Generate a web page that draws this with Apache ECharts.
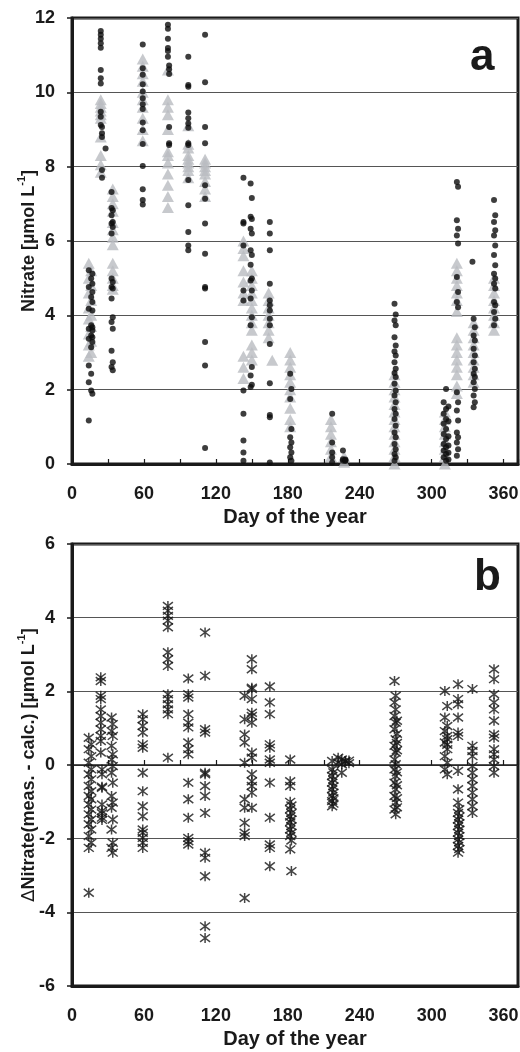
<!DOCTYPE html>
<html>
<head>
<meta charset="utf-8">
<script src="https://cdn.jsdelivr.net/npm/echarts@6/dist/echarts.min.js"></script>
<style>
html,body{margin:0;padding:0;background:#fff;}
#chart{width:520px;height:1052px;}
</style>
</head>
<body>
<div id="chart"></div>
<script>
// ---------- DATA ----------
const xTicks = [0, 60, 120, 180, 240, 300, 360];
const nitrateTicks = [0, 2, 4, 6, 8, 10, 12];
const deltaTicks = [-6, -4, -2, 0, 2, 4, 6];

// measured nitrate (black dots): [day, [values]]
const measuredGroups = [
  [14, [5.21, 4.76, 4.18, 3.64, 3.37, 2.65, 2.20, 1.17]],
  [16, [4.99, 4.49, 3.73, 3.46, 3.14, 2.43, 1.98]],
  [17, [5.12, 4.85, 4.63, 4.36, 4.13, 3.68, 3.59, 3.41, 3.28, 1.89]],
  [24, [11.65, 11.55, 11.44, 11.32, 11.2, 10.6, 10.38, 10.24, 9.48, 9.34, 9.12]],
  [25, [9.07, 8.9, 8.8, 7.91, 7.70]],
  [28, [8.49]],
  [33, [7.32, 6.89, 6.69, 6.47, 6.2, 4.99, 4.76, 4.45, 3.82, 3.05, 2.61]],
  [34, [6.83, 6.51, 6.38, 4.9, 4.72, 3.95, 3.64, 2.74, 2.52]],
  [59, [11.29, 10.65, 10.47, 10.22, 10.02, 9.84, 9.68, 9.55, 9.19, 8.98, 8.61, 8.02, 7.39, 7.1, 6.98]],
  [80, [11.82, 11.71, 11.44, 11.19, 11.11, 10.96]],
  [81, [10.72, 10.62, 10.49, 9.07, 8.63, 8.58]],
  [97, [10.96, 10.2, 10.15, 9.46, 9.3, 9.16, 9.05, 8.63, 8.58, 7.64, 6.96, 6.24, 5.88, 5.75]],
  [111, [11.55, 10.27, 9.07, 8.63, 7.5, 7.14, 6.47, 5.66, 4.76, 4.72, 3.28, 2.65, 0.43]],
  [143, [7.7, 6.51, 6.47, 5.88, 4.67, 4.4, 1.98, 1.35, 0.63, 0.31, 0.09]],
  [149, [7.55, 6.65, 6.33, 5.75, 5.36, 4.94, 4.45, 3.73, 2.38, 2.07]],
  [150, [7.16, 6.59, 6.2, 5.62, 4.99, 4.67, 3.95, 2.61, 2.13]],
  [165, [6.51, 6.2, 5.75, 4.85, 4.4, 4.27, 4.13, 3.91, 3.73, 3.23, 2.17, 1.32, 1.26, 0.04]],
  [182, [2.43, 1.75, 0.72, 0.45, 0.18]],
  [183, [2.02, 0.94, 0.58, 0.31, 0.09]],
  [217, [1.35, 0.58, 0.31, 0.18, 0.04]],
  [226, [0.36, 0.13, 0.09]],
  [228, [0.1, 0.12, 0.08]],
  [269, [4.31, 3.86, 3.41, 3.03, 2.74, 2.45, 2.16, 1.84, 1.48, 1.21, 0.85, 0.54, 0.27, 0.09]],
  [270, [4.02, 3.73, 3.19, 2.92, 2.56, 2.34, 1.98, 1.66, 1.35, 1.03, 0.72, 0.4, 0.18]],
  [310, [1.66, 1.35, 1.08, 0.81, 0.54, 0.36, 0.18]],
  [312, [2.02, 1.48, 1.21, 0.94, 0.67, 0.45, 0.27, 0.09]],
  [314, [1.55, 1.15, 0.75, 0.5, 0.3, 0.12]],
  [321, [7.59, 6.56, 6.15, 5.03, 4.36, 1.93, 1.44, 0.85, 0.58, 0.22]],
  [322, [7.46, 6.33, 5.93, 4.63, 4.22, 1.66, 1.17, 0.72, 0.4]],
  [334, [5.44]],
  [335, [3.91, 3.46, 3.1, 2.74, 2.43, 2.2, 1.84, 1.53]],
  [336, [3.68, 3.32, 2.92, 2.56, 2.34, 2.02, 1.66]],
  [352, [7.1, 6.51, 6.15, 5.62, 5.12, 4.85, 4.36, 4.09, 3.73]],
  [353, [6.69, 6.29, 5.88, 5.35, 4.99, 4.72, 4.27, 3.91]]
];

// calculated nitrate (grey triangles): [day, [values]]
const calculatedGroups = [
  [14, [5.4, 5.0, 4.6, 4.2, 3.9, 3.5, 3.2, 2.9]],
  [16, [5.2, 4.8, 4.4, 4.0, 3.7, 3.3, 3.0]],
  [24, [9.8, 9.7, 9.6, 9.5, 9.4, 9.3, 8.8, 8.3, 8.05, 7.85]],
  [34, [7.4, 7.2, 7.0, 6.8, 6.5, 6.3, 6.1, 5.9, 5.4, 5.2, 5.0, 4.8, 4.7]],
  [59, [10.9, 10.7, 10.5, 10.3, 10.0, 9.8, 9.6, 9.3, 9.0, 8.7]],
  [80, [10.6, 9.8, 9.6, 9.4, 9.0, 8.4, 8.3, 8.1, 7.8, 7.5, 7.2, 6.9]],
  [97, [9.1, 8.6, 8.5, 8.3, 8.2, 8.1, 8.0, 7.9, 7.7]],
  [111, [8.2, 8.1, 8.0, 7.9, 7.8, 7.6, 7.4, 7.2]],
  [143, [6.0, 5.8, 5.6, 5.2, 4.9, 4.6, 4.4, 2.9, 2.6, 2.3]],
  [150, [5.2, 5.0, 4.8, 4.6, 4.4, 4.2, 4.0, 3.8, 3.6, 3.2, 3.0, 2.8]],
  [164, [4.6, 4.4, 4.2, 4.0, 3.8, 3.6, 3.4]],
  [167, [2.79]],
  [182, [3.0, 2.8, 2.6, 2.4, 2.2, 2.0, 1.8, 1.5, 1.2, 1.0]],
  [216, [1.2, 1.0, 0.8, 0.6, 0.4, 0.2]],
  [227, [0.2, 0.05]],
  [269, [2.4, 2.2, 2.0, 1.8, 1.6, 1.4, 1.2, 1.0, 0.8, 0.6, 0.4, 0.2, 0.0]],
  [311, [1.4, 1.2, 1.0, 0.8, 0.6, 0.4, 0.2, 0.0]],
  [321, [5.4, 5.2, 5.0, 4.8, 4.6, 4.4, 4.1, 3.4, 3.2, 3.0, 2.8, 2.6, 2.4, 2.1, 1.9]],
  [335, [3.8, 3.6, 3.4, 3.2, 3.0, 2.8, 2.6, 2.4, 2.2]],
  [352, [5.0, 4.8, 4.6, 4.4, 4.2, 4.0, 3.8, 3.6]]
];

// difference measured - calculated (asterisks): [day, [values]]
const deltaGroups = [
  [14, [0.74, 0.43, 0.06, -0.25, -0.57, -0.84, -1.07, -1.34, -1.61, -1.93, -2.25, -3.47]],
  [16, [0.56, 0.24, -0.12, -0.39, -0.71, -0.93, -1.21, -1.48, -1.75, -2.11]],
  [24, [2.38, 2.28, 1.88, 1.79, 1.51, 1.33, 1.15, 0.97, 0.79, 0.65, 0.34]],
  [25, [-0.12, -0.25, -0.59, -0.62, -1.07, -1.25, -1.31, -1.43, -1.49]],
  [33, [1.29, 0.92, 0.52, 0.15, -0.21, -0.84, -1.16, -1.75, -2.25]],
  [34, [1.11, 0.79, 0.29, -0.03, -0.48, -1.02, -1.48, -2.11, -2.38]],
  [59, [1.38, 1.24, 1.06, 0.88, 0.56, 0.47, -0.21, -0.71, -1.12, -1.39, -1.75, -1.84, -1.98, -2.11, -2.25]],
  [80, [4.32, 4.19, 4.05, 3.92, 3.74, 3.06, 2.87, 2.69, 1.92, 1.79, 1.65, 1.51, 1.38, 0.2]],
  [97, [2.35, 1.92, 1.83, 1.38, 1.15, 1.02, 0.61, 0.43, 0.29, -0.48, -0.93, -1.43, -1.98, -2.07, -2.16]],
  [111, [3.6, 2.42, 0.97, 0.88, -0.21, -0.25, -0.57, -0.84, -1.3, -2.38, -2.52, -3.02, -4.38, -4.7]],
  [144, [1.88, 1.24, 0.83, 0.61, 0.06, -0.93, -1.16, -1.57, -1.84, -1.93, -3.61]],
  [150, [2.87, 2.6, 2.1, 2.06, 1.79, 1.42, 1.33, 1.15, 0.34, 0.2, -0.25, -0.44, -0.57, -0.75, -1.16]],
  [165, [2.13, 1.7, 1.38, 0.56, 0.47, 0.15, 0.06, -0.48, -1.43, -2.16, -2.25, -2.75]],
  [182, [0.15, -0.44, -0.57, -1.0, -1.2, -1.4, -1.55, -1.75, -1.93, -2.29]],
  [183, [-1.1, -1.3, -1.48, -1.66, -1.84, -2.05, -2.88]],
  [217, [0.11, -0.12, -0.3, -0.48, -0.66, -0.84, -0.98, -1.12]],
  [218, [-0.2, -0.4, -0.58, -0.75, -0.9, -1.05]],
  [222, [0.2, 0.06]],
  [225, [0.15, 0.02, -0.21]],
  [228, [0.11, 0.1]],
  [231, [0.05, 0.12]],
  [269, [2.28, 1.7, 1.33, 0.97, 0.52, 0.15, -0.12, -0.48, -0.84, -1.21]],
  [270, [1.88, 1.51, 1.15, 0.7, 0.34, 0.02, -0.3, -0.66, -1.02, -1.34]],
  [271, [1.2, 0.85, 0.6, 0.4, -0.2, -0.55, -0.9, -1.15]],
  [311, [2.01, 1.29, 0.92, 0.61, 0.24, -0.12]],
  [313, [1.6, 1.06, 0.79, 0.43, 0.06, -0.25, 0.55, 0.7]],
  [322, [2.19, 1.79, 1.65, 1.29, 0.88, 0.79, -0.16, -0.66, -1.02, -1.3, -1.48, -1.66, -1.84, -2.02, -2.2, -2.38]],
  [323, [-1.2, -1.4, -1.58, -1.75, -1.93, -2.1, -2.28]],
  [334, [2.06, 0.52, 0.38, 0.24, -0.03, -0.21, -0.39, -0.57, -0.75, -0.93, -1.12, -1.3]],
  [352, [2.6, 2.33, 1.92, 1.7, 1.51, 1.2, 0.83, 0.74, 0.43, 0.29, 0.15, -0.03, -0.21]]
];

// ---------- BUILD ----------
function flatten(groups) {
  const out = [];
  groups.forEach(function (g) { g[1].forEach(function (v) { out.push([g[0], v]); }); });
  return out;
}

const FONT = 'Liberation Sans, Arial, Helvetica, sans-serif';
const labelStyle = { fontFamily: FONT, fontSize: 18, fontWeight: 'bold', color: '#1a1a1a' };

function xAxisBase(gridIndex) {
  return {
    type: 'value', gridIndex: gridIndex, min: 0, max: 372, interval: 30,
    position: 'bottom',
    axisLine: { show: true, onZero: false, lineStyle: { color: '#1a1a1a', width: 3 } },
    splitLine: { show: false },
    axisLabel: Object.assign({}, labelStyle, {
      margin: 21,
      formatter: function (v) { return xTicks.indexOf(v) >= 0 ? String(v) : ''; }
    }),
    name: 'Day of the year', nameLocation: 'middle', nameGap: 43, nameMoveOverlap: false,
    nameTextStyle: { fontFamily: FONT, fontSize: 20, fontWeight: 'bold', color: '#1a1a1a' }
  };
}

function yAxisBase(gridIndex, min, max, ticks, nameRich) {
  return {
    type: 'value', gridIndex: gridIndex, min: min, max: max, interval: 2,
    axisLine: { show: true, onZero: false, lineStyle: { color: '#1a1a1a', width: 3 } },
    axisTick: { show: true, inside: false, length: 5, lineStyle: { color: '#1a1a1a', width: 1.5 } },
    axisLabel: Object.assign({}, labelStyle, {
      margin: 17,
      formatter: function (v) { return ticks.indexOf(v) >= 0 ? String(v) : ''; }
    }),
    splitLine: { show: true, lineStyle: { color: '#555', width: 1 } },
    name: nameRich, nameLocation: 'middle', nameGap: 34, nameMoveOverlap: false,
    nameTextStyle: {
      rich: {
        t: { fontFamily: FONT, fontSize: 18, fontWeight: 'bold', color: '#1a1a1a', lineHeight: 22, verticalAlign: 'bottom' },
        d: { fontFamily: 'DejaVu Sans, ' + FONT, fontSize: 18, fontWeight: 'normal', color: '#1a1a1a', lineHeight: 22, verticalAlign: 'bottom' },
        s: { fontFamily: FONT, fontSize: 11, fontWeight: 'bold', color: '#1a1a1a', lineHeight: 22, verticalAlign: 'top' }
      }
    }
  };
}

const xTop = xAxisBase(0);
xTop.axisTick = { show: true, inside: true, length: 5, lineStyle: { color: '#1a1a1a', width: 1.2 } };

const xBottom = xAxisBase(1);
xBottom.axisTick = { show: false };

const xZero = {
  type: 'value', gridIndex: 1, min: 0, max: 372, interval: 30,
  position: 'top',
  axisLine: { show: true, onZero: true, onZeroAxisIndex: 1, lineStyle: { color: '#1a1a1a', width: 1.5 } },
  axisTick: { show: true, inside: false, length: 5, lineStyle: { color: '#1a1a1a', width: 1.2 } },
  axisLabel: { show: false },
  splitLine: { show: false }
};

const asterisk = 'path://M0,0L10,10M10,0L0,10M5,-1.5L5,11.5';

const option = {
  animation: false,
  backgroundColor: '#ffffff',
  grid: [
    { left: 72, top: 18, width: 446, height: 446, containLabel: false, outerBoundsMode: 'none', show: true, borderColor: '#1a1a1a', borderWidth: 3, backgroundColor: 'transparent' },
    { left: 72, top: 544, width: 446, height: 442, containLabel: false, outerBoundsMode: 'none', show: true, borderColor: '#1a1a1a', borderWidth: 3, backgroundColor: 'transparent' }
  ],
  xAxis: [xTop, xBottom, xZero],
  yAxis: [
    yAxisBase(0, 0, 12, nitrateTicks, '{t|Nitrate [µmol L}{s|-1}{t|]}'),
    yAxisBase(1, -6, 6, deltaTicks, '{d|∆}{t|Nitrate(meas. - calc.) [µmol L}{s|-1}{t|]}')
  ],
  series: [
    {
      name: 'calculated', type: 'scatter', xAxisIndex: 0, yAxisIndex: 0,
      symbol: 'triangle', symbolSize: [12, 11],
      itemStyle: { color: '#b9bcc1' },
      data: flatten(calculatedGroups)
    },
    {
      name: 'measured', type: 'scatter', xAxisIndex: 0, yAxisIndex: 0,
      symbol: 'circle', symbolSize: 6,
      itemStyle: { color: '#0d0d0d' },
      data: flatten(measuredGroups)
    },
    {
      name: 'difference', type: 'scatter', xAxisIndex: 1, yAxisIndex: 1,
      symbol: asterisk, symbolSize: 10,
      itemStyle: { color: 'rgba(0,0,0,0)', borderColor: '#151515', borderWidth: 1.5 },
      data: flatten(deltaGroups)
    }
  ],
  graphic: [
    { type: 'text', left: 470, top: 36, style: { text: 'a', fontFamily: FONT, fontSize: 44, fontWeight: 'bold', fill: '#1a1a1a' } },
    { type: 'text', left: 474, top: 556, style: { text: 'b', fontFamily: FONT, fontSize: 44, fontWeight: 'bold', fill: '#1a1a1a' } }
  ]
};

const chart = echarts.init(document.getElementById('chart'), null, { renderer: 'canvas' });
chart.setOption(option);
</script>
</body>
</html>
